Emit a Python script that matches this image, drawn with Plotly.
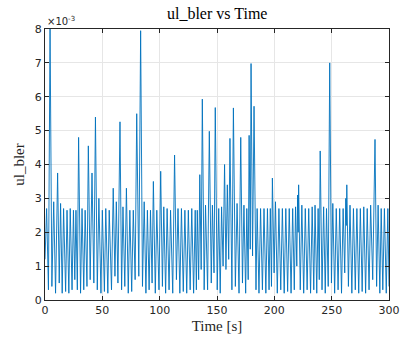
import plotly.graph_objects as go

# Time [s] and ul_bler (in units of 1e-3), peaks and troughs
time_s = [
    0.0, 1.4, 3.0, 4.4, 6.0, 7.6, 9.2, 11.0, 12.4, 13.6, 15.0, 16.2, 18.0, 19.2, 20.8, 22.0,
    23.6, 24.8, 26.0, 27.0, 28.2, 29.3, 31.0, 32.3, 33.8, 35.0, 36.6, 37.8, 39.4, 41.0,
    42.6, 44.0, 45.6, 47.0, 48.8, 50.0, 51.8, 53.0, 54.8, 56.0, 58.0, 59.5, 61.0, 62.2,
    63.6, 64.7, 65.4, 66.8, 68.0, 69.6, 71.0, 72.6, 74.0, 75.6, 77.0, 78.6, 80.0, 81.8,
    83.4, 85.0, 86.5, 88.0, 89.3, 90.8, 92.0, 93.4, 94.5, 96.2, 97.5, 99.4, 100.9, 102.4,
    103.6, 105.2, 106.5, 108.2, 109.5, 111.4, 113.0, 114.6, 116.0, 117.6, 119.0, 120.6,
    122.0, 123.6, 125.0, 126.6, 128.0, 129.6, 131.0, 132.0, 132.8, 134.0, 135.0, 136.2,
    137.2, 138.8, 140.0, 141.8, 143.3, 145.0, 146.0, 147.4, 148.5, 150.2, 151.5, 152.8,
    154.0, 155.3, 156.0, 156.6, 157.8, 159.0, 160.2, 161.3, 163.0, 164.3, 166.0, 167.5,
    169.2, 170.7, 172.2, 173.5, 175.0, 176.0, 177.2, 178.0, 179.0, 179.7, 181.0, 182.3,
    184.0, 185.0, 186.6, 188.0, 189.6, 191.0, 192.6, 194.0, 195.4, 196.5, 197.5, 198.3,
    199.8, 201.0, 202.6, 204.0, 205.6, 207.0, 208.6, 210.0, 211.6, 213.0, 214.6, 216.0,
    217.4, 218.5, 219.6, 220.3, 220.8, 221.2, 222.6, 224.0, 225.6, 227.0, 228.6, 230.0,
    231.6, 233.0, 234.4, 235.5, 237.0, 238.2, 239.2, 240.0, 241.6, 243.0, 244.4, 245.5,
    247.0, 248.3, 249.8, 251.0, 252.6, 254.0, 255.6, 257.0, 258.6, 260.0, 261.4, 262.3,
    262.8, 263.2, 264.6, 266.0, 267.6, 269.0, 270.6, 272.0, 273.6, 275.0, 276.6, 278.0,
    279.6, 281.0, 282.6, 284.0, 285.8, 287.8, 289.2, 290.5, 292.0, 293.2, 294.6, 296.0,
    297.6, 299.0, 300.0,
]
ul_bler_e3 = [
    1.2, 2.7, 0.3, 8.0, 0.4, 2.9, 0.2, 3.75, 0.5, 2.85, 0.2, 2.7, 0.25, 2.65, 0.2, 2.7,
    0.3, 2.65, 0.6, 2.65, 0.3, 4.8, 0.2, 2.7, 0.3, 2.65, 0.4, 4.55, 0.6, 3.75,
    0.5, 5.4, 0.3, 3.0, 0.2, 2.65, 0.25, 2.7, 0.2, 2.65, 0.3, 3.3, 0.7, 2.9,
    0.5, 5.0, 5.26, 0.3, 2.75, 0.4, 3.3, 0.2, 2.65, 0.25, 2.65, 0.6, 5.5, 0.7,
    7.95, 0.4, 2.9, 0.2, 2.65, 0.3, 2.65, 0.5, 3.5, 0.2, 2.65, 0.3, 3.8, 0.4,
    2.75, 0.2, 2.7, 0.3, 2.65, 0.2, 4.28, 0.6, 2.7, 0.2, 2.7, 0.25,
    2.65, 0.2, 2.65, 0.3, 2.7, 0.2, 2.65, 0.3, 2.65, 0.6, 3.7, 0.9,
    5.93, 0.3, 2.8, 0.3, 4.98, 0.5, 2.8, 0.8, 5.68, 0.3, 2.7, 0.2,
    2.75, 1.0, 3.8, 4.0, 0.9, 3.4, 1.2, 4.77, 0.3, 5.67, 0.4, 2.85,
    0.2, 4.8, 0.5, 2.8, 0.2, 2.7, 0.6, 4.86, 1.5, 6.98, 1.3, 5.72,
    0.3, 2.7, 0.2, 2.7, 0.3, 2.7, 0.2, 2.7, 0.3, 2.7, 0.4, 3.6,
    0.8, 2.9, 0.2, 2.7, 0.3, 2.7, 0.2, 2.7, 0.25, 2.7, 0.2, 2.7,
    0.3, 2.75, 1.0, 3.1, 2.0, 3.4, 0.3, 2.8, 0.2, 2.7, 0.3, 2.7,
    0.2, 2.75, 0.3, 2.8, 0.2, 2.7, 0.6, 4.4, 0.3, 2.75, 0.2, 2.7,
    0.4, 7.0, 0.5, 2.85, 0.2, 2.7, 0.3, 2.7, 0.2, 2.7, 0.8, 3.0,
    2.2, 3.4, 0.4, 2.8, 0.2, 2.7, 0.3, 2.7, 0.2, 2.7, 0.25, 2.75,
    0.2, 2.7, 0.3, 2.8, 0.6, 4.74, 0.4, 2.8, 0.2, 2.7, 0.3, 2.7,
    0.2, 2.7, 0.4,
]

x_ticks = [0, 50, 100, 150, 200, 250, 300]
y_ticks = [0, 1, 2, 3, 4, 5, 6, 7, 8]

fig = go.Figure()
fig.add_trace(go.Scatter(
    x=time_s, y=ul_bler_e3, mode="lines",
    line=dict(color="#0072BD", width=0.9),
    showlegend=False,
))

axis_common = dict(
    showline=True, linecolor="#262626", linewidth=1, mirror="allticks",
    ticks="inside", ticklen=4, tickcolor="#262626", tickwidth=1,
    showgrid=True, gridcolor="#e6e6e6", gridwidth=1, zeroline=False,
    automargin=False,
    tickfont=dict(family="DejaVu Sans, sans-serif", size=11, color="#262626"),
)

fig.update_layout(
    width=406, height=343,
    margin=dict(l=45, r=17, t=29, b=43),
    paper_bgcolor="white", plot_bgcolor="white",
    title=dict(text="ul_bler vs Time", x=0.535, xanchor="center", y=0.962, yanchor="middle",
               font=dict(family="Liberation Serif, serif", size=16, color="#000000")),
    xaxis=dict(range=[0, 300], tickvals=x_ticks, **axis_common,
               title=dict(text="Time [s]", standoff=4,
                          font=dict(family="Liberation Serif, serif", size=15, color="#262626"))),
    yaxis=dict(range=[0, 8], tickvals=y_ticks, **axis_common,
               title=dict(text="ul_bler", standoff=6,
                          font=dict(family="Liberation Serif, serif", size=15, color="#262626"))),
)

fig.add_annotation(
    text="×10<sup>-3</sup>", xref="paper", yref="paper", x=0.0, y=1.0,
    xanchor="left", yanchor="bottom", showarrow=False, yshift=0,
    font=dict(family="DejaVu Sans, sans-serif", size=10, color="#262626"),
)

fig.write_html("out.html")
